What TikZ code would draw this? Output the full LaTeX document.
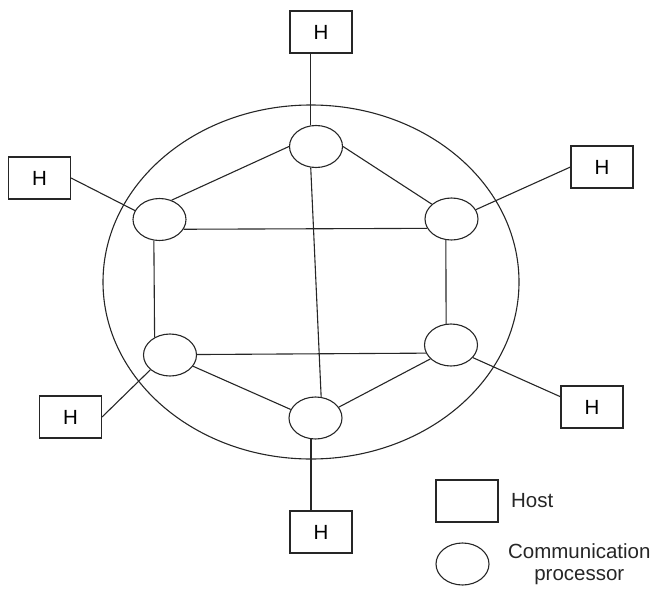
\documentclass[tikz,border=0pt]{standalone}
\usepackage{fontspec}
\setmainfont{Liberation Sans}
\usetikzlibrary{calc,positioning,shapes.geometric}

\tikzset{
  host/.style={draw, minimum width=62pt, minimum height=42pt, inner sep=0pt},
  proc/.style={draw, ellipse, minimum width=53pt, minimum height=42pt, inner sep=0pt},
  legtext/.style={inner sep=0pt, text=black!85},
}

\begin{document}
\begin{tikzpicture}[x=1pt,y=-1pt, line width=1.1pt, draw=black!85,
    font=\fontsize{20.5}{22}\selectfont]
  \useasboundingbox (0,0) rectangle (655,591);
  % subnet boundary
  \draw (311,282) ellipse [x radius=208pt, y radius=177pt];
  % communication processors
  \node[proc] (pt) at (316,146.5) {};
  \node[proc] (plu) at (159.5,219.5) {};
  \node[proc] (pru) at (451.5,219) {};
  \node[proc] (pll) at (170,355) {};
  \node[proc] (prl) at (451,345) {};
  \node[proc] (pb) at (315.5,418) {};
  % hosts
  \node[host] (ht) at (321,32) {H};
  \node[host] (hl) at (39.5,178) {H};
  \node[host] (hr) at (602,167) {H};
  \node[host] (hll) at (70.5,417) {H};
  \node[host] (hrl) at (592,407) {H};
  \node[host] (hb) at (321,532) {H};
  % processor links
  \draw (pt.180) -- (plu.58);
  \draw (pt.0) -- (pru.143);
  \draw (pt.256) -- (pb.75);
  \draw (plu.338) -- (pru.201);
  \draw (plu.255) -- (pll.131);
  \draw (pru.255) -- (prl.103);
  \draw (pll.1) -- (prl.198);
  \draw (pll.334) -- (pb.161);
  \draw (prl.214) -- (pb.25);
  % host links
  \draw (pt.104) -- (pt.104 |- ht.south);
  \draw (pb.258) -- (pb.258 |- hb.north);
  \draw (plu.160) -- (hl.east);
  \draw (pru.21) -- (hr.west);
  \draw (pll.217) -- (hll.east);
  \draw (prl.330) -- (hrl.162);
  % legend
  \node[host] (lh) at (467,501) {};
  \node[legtext, right=12pt of lh] (lht) {Host};
  \node[proc] (lp) at (462.5,564) {};
  \node[legtext, align=center, right=18pt of lp] (lpt) {Communication\\processor};
\end{tikzpicture}
\end{document}
